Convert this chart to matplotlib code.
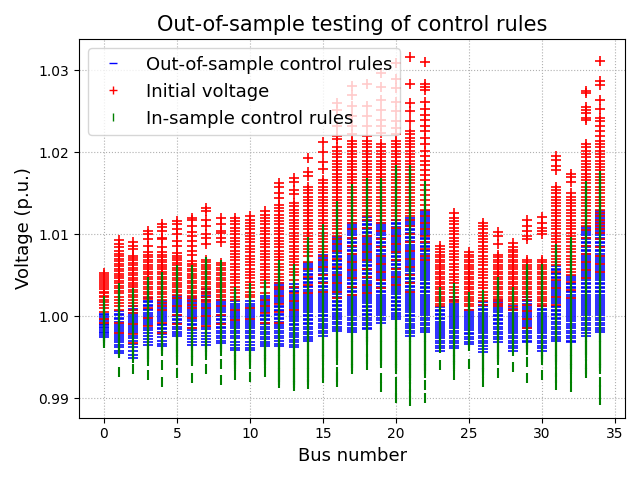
import matplotlib
matplotlib.use("Agg")
import matplotlib.pyplot as plt

# Voltage values per bus, in units of 1e-4 p.u. above 1.0 p.u.
buses = list(range(35))

red_vals = [
    [53,50,48,45,43,40,38,35,33,30,28,25,23,20,17,14,10,5,-3,-8],
    [93,88,84,80,76,73,70,67,64,61,58,55,52,49,46,43,40,37,34,31,28,24,20,16,12,8,-8,-20],
    [90,86,82,74,71,68,65,62,59,56,53,50,47,44,41,38,35,32,29,26,23,20,16,12,8,4,-10,-22,-33],
    [104,100,94,86,78,75,72,69,66,63,60,57,54,51,48,45,42,39,36,33,30,27,24,21,10,-2,-12],
    [113,109,104,96,94,85,78,75,72,69,66,63,60,57,54,51,48,45,42,39,36,33,30,27,24,20,16,12,8,-8,-20],
    [116,112,106,100,92,86,77,74,71,68,65,62,59,56,53,50,47,44,41,38,35,32,29,26,22,12,2,-10],
    [120,117,110,103,98,92,86,80,75,67,64,61,58,55,52,49,46,43,40,37,34,31,28,25,22,18,14,10,-2,-15],
    [132,128,118,110,100,96,88,69,66,63,60,57,54,51,48,45,42,39,36,33,30,27,24,20,17,10,0,-12],
    [120,112,104,101,96,91,65,62,59,56,53,50,47,44,41,38,35,32,29,26,23,20,12,2,-10],
    [120,116,112,108,104,100,96,92,88,84,80,76,72,68,64,60,56,52,48,44,40,36,32,28,24,20,8,-5],
    [122,118,114,110,106,102,98,94,90,86,82,78,74,70,66,62,58,54,50,46,42,38,34,30,26,23,10,-4],
    [128,124,120,116,112,108,104,100,96,92,88,84,80,76,72,68,64,60,56,52,48,44,41,35,28,20,12,4,-8],
    [163,158,150,144,136,132,128,124,120,116,112,108,104,100,96,92,88,84,80,76,72,68,64,60,56,52,48,44,40,36,33,25,15,5,-8],
    [169,164,154,149,138,134,130,126,122,118,114,110,106,102,98,94,90,86,82,78,74,70,66,62,58,54,50,44,36,28,18,8],
    [193,176,171,158,154,150,146,142,138,134,130,126,122,118,114,110,106,102,98,94,90,86,82,78,74,66,58,48,38,28],
    [213,200,188,180,166,162,158,154,150,146,142,138,134,130,126,122,118,114,110,106,102,98,94,90,86,82,78,74,68,60,50,40,30],
    [260,252,232,220,216,206,202,198,194,190,186,182,178,174,170,166,162,158,154,150,146,142,138,134,130,126,122,118,114,110,106,102,98,94,88,80,70,60,50,40,30,22],
    [281,270,256,244,232,222,214,210,206,202,198,194,190,186,182,178,174,170,166,162,158,154,150,146,142,138,134,130,126,122,118,114,106,96,86,76,66,56,46,36,26],
    [283,256,244,232,220,214,210,206,202,198,194,190,186,182,178,174,170,166,162,158,154,150,146,142,138,134,130,126,122,117,108,98,88,78,68,58,48,38,28],
    [297,280,264,252,240,232,224,210,206,202,198,194,190,186,182,178,174,170,166,162,158,154,150,146,142,138,134,130,126,122,118,114,104,94,84,74,64,54,44,34],
    [309,290,278,262,250,238,230,222,214,210,206,202,198,194,190,186,182,178,174,170,166,162,158,154,150,146,142,138,134,130,126,122,117,108,98,88,78,68,58,48,38],
    [317,284,260,250,238,226,222,218,214,210,206,202,198,194,190,186,182,178,174,170,166,162,158,154,150,146,142,138,134,130,126,122,118,110,100,90,80,70,60,50,40,30],
    [310,284,280,276,262,253,246,240,232,226,218,210,202,196,190,184,178,172,166,160,154,148,142,136,130,122,114,106,98,90,82,74,69],
    [86,82,78,75,72,69,66,63,60,57,54,51,48,45,42,39,36,33,30,27,24,21,18,15,12],
    [126,120,116,112,108,104,100,96,92,88,84,80,76,72,68,64,60,56,52,48,44,40,36,32,28,24,20,17],
    [78,75,72,69,66,63,60,57,54,51,48,45,42,39,36,33,30,27,24,21,18,15,12,8],
    [114,110,106,102,98,94,90,86,82,78,74,70,66,62,58,54,50,46,42,38,34,30,26,22,18,14],
    [103,98,88,75,72,69,66,63,60,57,54,51,48,45,42,39,36,33,30,27,24,21,18,15,12],
    [89,85,81,78,75,72,69,66,63,60,57,54,51,48,45,42,39,36,33,30,27,24,21,18,15,11,8],
    [117,110,104,98,94,69,66,63,60,57,54,51,48,45,42,39,36,33,30,27,24,20,14,6,-4,-14],
    [121,114,108,104,100,69,66,63,60,57,54,51,48,45,42,39,36,33,30,27,24,21,18,15,12],
    [195,191,183,179,158,154,150,146,142,138,134,130,126,122,118,114,110,106,102,98,94,90,86,82,78,74,70,66,62,54,44,34,24,14],
    [174,170,164,150,146,142,138,134,130,126,122,118,114,110,106,102,98,94,90,86,82,78,74,70,66,62,58,54,50,42,32,22],
    [275,272,255,252,248,242,240,210,206,202,198,194,190,186,182,178,174,170,166,162,158,154,150,146,142,138,134,130,126,122,118,114,110,105,96,86,76,66,56,46],
    [311,287,282,264,253,242,238,232,226,220,214,210,206,202,198,194,190,186,182,178,174,170,166,162,158,154,150,146,142,138,134,130,126,122,118,114,110,106,102,94,84,74,64,54],
]

blue_vals = [
    [3,1,-1,-3,-5,-7,-9,-11,-13,-15,-17,-19,-21,-23,-26],
    [6,3,1,-2,-4,-7,-9,-12,-14,-17,-19,-22,-24,-27,-29,-32,-35,-38,-42,-45],
    [12,9,7,4,2,-1,-3,-6,-8,-11,-13,-16,-18,-21,-24,-27,-30,-34,-38,-42,-47,-51],
    [22,19,17,14,12,9,7,4,2,-1,-3,-6,-8,-11,-14,-17,-20,-24,-28,-32,-35],
    [19,16,14,11,9,6,4,1,-1,-4,-6,-9,-11,-14,-16,-19,-22,-26,-30,-34,-37],
    [25,22,20,17,15,12,10,7,5,2,0,-3,-5,-8,-10,-13,-16,-19,-22,-24],
    [24,21,19,16,14,11,9,6,4,1,-1,-4,-6,-9,-11,-14,-17,-20,-24,-28,-32,-35],
    [33,30,28,25,23,20,18,15,13,10,8,5,3,0,-2,-5,-7,-10,-13,-16,-20,-24,-28,-32,-35],
    [20,17,15,12,10,7,5,2,0,-3,-5,-8,-10,-13,-15,-18,-21,-24,-27,-30,-33],
    [18,15,13,10,8,5,3,0,-2,-5,-7,-10,-12,-15,-18,-21,-24,-27,-31,-35,-39,-41],
    [18,15,13,10,8,5,3,0,-2,-5,-7,-10,-12,-15,-18,-21,-24,-27,-31,-35,-39,-41],
    [25,22,20,17,15,12,10,7,5,2,0,-3,-5,-8,-10,-13,-16,-19,-22,-25,-28,-31,-34,-37],
    [41,38,36,33,31,28,26,23,21,18,16,13,11,8,6,3,1,-2,-4,-7,-9,-12,-15,-18,-21,-24,-27,-30,-34,-37],
    [39,36,34,31,29,26,24,21,19,16,14,11,9,6,4,1,-1,-4,-6,-9,-11,-14,-17,-20,-23,-26,-29,-32,-35,-38],
    [65,62,60,57,55,52,50,47,45,42,40,37,35,32,30,27,25,22,20,17,15,12,10,7,5,2,0,-3,-5,-8,-10,-13,-16,-19,-22,-25,-28,-30],
    [75,72,70,67,65,62,60,57,55,52,50,47,45,42,40,37,35,32,30,27,25,22,20,17,15,12,10,7,5,2,0,-3,-6,-9,-12,-15,-18,-21,-24],
    [97,94,92,89,87,84,82,79,77,74,72,69,67,64,62,59,57,54,52,49,47,44,42,39,37,34,32,29,27,24,22,19,17,14,12,9,7,4,2,-1,-4,-7,-10,-13,-16,-18],
    [114,111,109,106,104,101,99,96,94,91,89,86,84,81,79,76,74,71,69,66,64,61,59,56,54,51,49,46,44,41,39,36,34,31,29,26,24,21,19,16,14,11,9,6,4,1,-2,-5,-8,-11,-14,-17,-19],
    [121,118,116,113,111,108,106,103,101,98,96,93,91,88,86,83,81,78,76,73,71,68,66,63,61,58,56,53,51,48,46,43,41,38,36,33,31,28,26,23,21,18,16,13,11,8,6,3,1,-2,-5,-8,-11,-14,-16],
    [114,111,109,106,104,101,99,96,94,91,89,86,84,81,79,76,74,71,69,66,64,61,59,56,54,51,49,46,44,41,39,36,34,31,29,26,24,21,19,16,14,11,9,6,4,1,-2,-5,-8],
    [117,114,112,109,107,104,102,99,97,94,92,89,87,84,82,79,77,74,72,69,67,64,62,59,57,54,52,49,47,44,42,39,37,34,32,29,27,24,22,19,17,14,12,9,7,4,2,-1,-4],
    [120,117,115,112,110,107,105,102,100,97,95,92,90,87,85,82,80,77,75,72,70,67,65,62,60,57,55,52,50,47,45,42,40,37,35,32,30,27,25,22,20,17,15,12,10,7,5,2,0,-3,-6,-9,-12,-15,-18,-21,-24],
    [129,126,124,121,119,116,114,111,109,106,104,101,99,96,94,91,89,86,84,81,79,76,74,71,69,66,64,61,59,56,54,51,49,46,44,41,39,36,34,31,29,26,24,21,19,16,14,11,9,6,4,1,-2,-5,-8,-11,-14,-17,-19],
    [11,8,6,3,1,-2,-4,-7,-9,-12,-14,-17,-19,-22,-24,-27,-30,-33,-36,-39,-42],
    [23,20,18,15,13,10,8,5,3,0,-2,-5,-7,-10,-12,-15,-18,-21,-24,-27,-30,-33,-36,-39],
    [8,5,3,0,-2,-5,-7,-10,-12,-15,-17,-20,-22,-25,-28,-31,-34],
    [17,14,12,9,7,4,2,-1,-3,-6,-8,-11,-13,-16,-18,-21,-24,-27,-30,-33,-36,-40,-44],
    [20,17,15,12,10,7,5,2,0,-3,-5,-8,-10,-13,-16,-19,-22,-25,-28,-31],
    [12,9,7,4,2,-1,-3,-6,-8,-11,-13,-16,-18,-21,-24,-27,-30,-33,-36,-39,-42],
    [23,20,18,15,13,10,8,5,3,0,-2,-5,-7,-10,-12,-15,-18,-21,-24,-27,-30,-32],
    [12,9,7,4,2,-1,-3,-6,-8,-11,-13,-16,-18,-21,-24,-27,-30,-33,-36,-39,-42],
    [61,58,56,53,51,48,46,43,41,38,36,33,31,28,26,23,21,18,16,13,11,8,6,3,1,-2,-4,-7,-10,-13,-16,-19,-22,-25,-28,-30],
    [49,46,44,41,39,36,34,31,29,26,24,21,19,16,14,11,9,6,4,1,-1,-4,-6,-9,-12,-15,-18,-21,-24,-27,-30,-32],
    [109,106,104,101,99,96,94,91,89,86,84,81,79,76,74,71,69,66,64,61,59,56,54,51,49,46,44,41,39,36,34,31,29,26,24,21,19,16,14,11,9,6,4,1,-2,-5,-8,-11,-14,-17,-20,-24],
    [129,126,124,121,119,116,114,111,109,106,104,101,99,96,94,91,89,86,84,81,79,76,74,71,69,66,64,61,59,56,54,51,49,46,44,41,39,36,34,31,29,26,24,21,19,16,14,11,9,6,4,1,-2,-5,-8,-11,-14,-17,-19],
]

green_vals = [
    [18,15,12,9,6,3,0,-3,-6,-9,-12,-15,-18,-21,-24,-27,-30,-33],
    [34,30,26,22,18,14,10,6,2,-2,-6,-10,-14,-18,-22,-26,-30,-34,-38,-42,-45,-68],
    [28,24,20,16,12,8,4,0,-4,-8,-12,-16,-20,-24,-28,-32,-36,-40,-44,-48,-51,-64],
    [42,38,34,30,26,22,18,14,10,6,2,-2,-6,-10,-14,-18,-22,-26,-30,-34,-38,-42,-46,-50,-55,-72],
    [48,44,40,36,32,28,24,20,16,12,8,4,0,-4,-8,-12,-16,-20,-24,-28,-32,-36,-40,-43,-60,-80],
    [56,52,48,44,40,36,32,28,24,20,16,12,8,4,0,-4,-8,-12,-16,-20,-24,-28,-32,-36,-40,-44,-48,-53,-70],
    [56,52,48,44,40,36,32,28,24,20,16,12,8,4,0,-4,-8,-12,-16,-20,-24,-28,-32,-36,-40,-44,-48,-52,-55,-76],
    [66,62,58,54,50,46,42,38,34,30,26,22,18,14,10,6,2,-2,-6,-10,-14,-18,-22,-26,-30,-34,-38,-42,-47,-64],
    [62,58,54,50,46,42,38,34,30,26,22,18,14,10,6,2,-2,-6,-10,-14,-18,-22,-26,-30,-34,-38,-43,-58,-78],
    [30,26,22,18,14,10,6,2,-2,-6,-10,-14,-18,-22,-26,-30,-34,-38,-42,-46,-50,-54,-58,-61,-72],
    [34,30,26,22,18,14,10,6,2,-2,-6,-10,-14,-18,-22,-26,-30,-34,-38,-42,-46,-50,-54,-59,-74],
    [38,34,30,26,22,18,14,10,6,2,-2,-6,-10,-14,-18,-22,-26,-30,-34,-38,-42,-46,-50,-54,-57,-68],
    [62,58,54,50,46,42,38,34,30,26,22,18,14,10,6,2,-2,-6,-10,-14,-18,-22,-26,-30,-34,-38,-42,-46,-50,-54,-58,-62,-66,-70,-74,-78,-81],
    [58,54,50,46,42,38,34,30,26,22,18,14,10,6,2,-2,-6,-10,-14,-18,-22,-26,-30,-34,-38,-42,-46,-50,-54,-58,-62,-66,-70,-74,-78,-82,-85],
    [90,86,82,78,74,70,66,62,58,54,50,46,42,38,34,30,26,22,18,14,10,6,2,-2,-6,-10,-14,-18,-22,-26,-30,-34,-38,-42,-46,-50,-54,-58,-62,-66,-70,-74,-78,-83],
    [106,102,98,94,90,86,82,78,74,70,66,62,58,54,50,46,42,38,34,30,26,22,18,14,10,6,2,-2,-6,-10,-14,-18,-22,-26,-30,-34,-38,-42,-46,-50,-53,-63,-70,-76],
    [135,131,127,123,119,115,111,107,103,99,95,91,87,83,79,75,71,67,63,59,55,51,47,43,39,35,31,27,23,19,15,11,7,3,-1,-5,-9,-13,-17,-21,-25,-29,-33,-37,-41,-45,-49,-53,-68,-74,-80],
    [155,151,147,143,139,135,131,127,123,119,115,111,107,103,99,95,91,87,83,79,75,71,67,63,59,55,51,47,43,39,35,31,27,23,19,15,11,7,3,-1,-5,-9,-13,-17,-21,-25,-29,-33,-37,-41,-45,-49,-53,-57,-61,-65],
    [163,159,155,151,147,143,139,135,131,127,123,119,115,111,107,103,99,95,91,87,83,79,75,71,67,63,59,55,51,47,43,39,35,31,27,23,19,15,11,7,3,-1,-5,-9,-13,-17,-21,-25,-29,-31,-44,-52,-60],
    [163,159,155,151,147,143,139,135,131,127,123,119,115,111,107,103,99,95,91,87,83,79,75,71,67,63,59,55,51,47,43,39,35,31,27,23,19,15,11,7,3,-1,-5,-9,-13,-17,-21,-25,-29,-33,-37,-41,-45,-49,-53,-57,-76,-86],
    [179,175,171,167,163,159,155,151,147,143,139,135,131,127,123,119,115,111,107,103,99,95,91,87,83,79,75,71,67,63,59,55,51,47,43,39,35,31,27,23,19,15,11,7,3,-1,-5,-9,-13,-17,-21,-25,-29,-33,-37,-41,-45,-49,-53,-57,-61,-65,-80,-92,-100],
    [179,175,171,167,163,159,155,151,147,143,139,135,131,127,123,119,115,111,107,103,99,95,91,87,83,79,75,71,67,63,59,55,51,47,43,39,35,31,27,23,19,15,11,7,3,-1,-5,-9,-13,-17,-21,-25,-29,-33,-37,-41,-45,-49,-53,-57,-61,-65,-69,-73,-77,-86,-95,-103],
    [159,155,151,147,143,139,135,131,127,123,119,115,111,107,103,99,95,91,87,83,79,75,71,67,63,59,55,51,47,43,39,35,31,27,23,19,15,11,7,3,-1,-5,-9,-13,-17,-21,-25,-29,-33,-37,-41,-45,-49,-53,-57,-61,-65,-69,-84,-100],
    [30,26,22,18,14,10,6,2,-2,-6,-10,-14,-18,-22,-26,-30,-34,-39,-60],
    [34,30,26,22,18,14,10,6,2,-2,-6,-10,-14,-18,-22,-26,-30,-34,-38,-42,-46,-50,-54,-58,-61,-72],
    [24,20,16,12,8,4,0,-4,-8,-12,-16,-20,-24,-28,-32,-37,-58],
    [26,22,18,14,10,6,2,-2,-6,-10,-14,-18,-22,-26,-30,-34,-38,-42,-46,-50,-54,-58,-62,-66,-69,-80],
    [42,38,34,30,26,22,18,14,10,6,2,-2,-6,-10,-14,-18,-22,-26,-30,-34,-38,-42,-46,-50,-53,-70],
    [30,26,22,18,14,10,6,2,-2,-6,-10,-14,-18,-22,-26,-30,-34,-38,-43,-62],
    [58,54,50,46,42,38,34,30,26,22,18,14,10,6,2,-2,-6,-10,-14,-18,-22,-26,-30,-34,-38,-41,-56,-76],
    [58,54,50,46,42,38,34,30,26,22,18,14,10,6,2,-2,-6,-10,-14,-18,-22,-26,-30,-34,-38,-42,-46,-50,-53,-72],
    [82,78,74,70,66,62,58,54,50,46,42,38,34,30,26,22,18,14,10,6,2,-2,-6,-10,-14,-18,-22,-26,-30,-34,-38,-42,-46,-50,-54,-59,-68,-76,-84],
    [90,86,82,78,74,70,66,62,58,54,50,46,42,38,34,30,26,22,18,14,10,6,2,-2,-6,-10,-14,-18,-22,-26,-30,-34,-38,-42,-46,-50,-54,-58,-62,-65,-76,-86],
    [159,155,151,147,143,139,135,131,127,123,119,115,111,107,103,99,95,91,87,83,79,75,71,67,63,59,55,51,47,43,39,35,31,27,23,19,15,11,7,3,-1,-5,-9,-13,-17,-21,-25,-29,-33,-37,-41,-45,-49,-58,-64,-70],
    [171,167,163,159,155,151,147,143,139,135,131,127,123,119,115,111,107,103,99,95,91,87,83,79,75,71,67,63,59,55,51,47,43,39,35,31,27,23,19,15,11,7,3,-1,-5,-9,-13,-17,-21,-25,-29,-33,-37,-41,-45,-49,-53,-57,-61,-65,-80,-90,-102],
]

title = "Out-of-sample testing of control rules"
xlabel = "Bus number"
ylabel = "Voltage (p.u.)"
labels = ["Out-of-sample control rules", "Initial voltage", "In-sample control rules"]


def flatten(vals):
    xs, ys = [], []
    for b, lst in zip(buses, vals):
        for v in lst:
            xs.append(b)
            ys.append(1.0 + v * 1e-4)
    return xs, ys


fig, ax = plt.subplots(figsize=(6.4, 4.8), dpi=100)
bx, by = flatten(blue_vals)
rx, ry = flatten(red_vals)
gx, gy = flatten(green_vals)
ax.plot(bx, by, "b_", label=labels[0], markersize=7, markeredgewidth=1.15)
ax.plot(rx, ry, "r+", label=labels[1], markersize=7, markeredgewidth=1.2)
ax.plot(gx, gy, "g|", label=labels[2], markersize=7, markeredgewidth=1.5)

ax.set_title(title, fontsize=15)
ax.set_xlabel(xlabel, fontsize=13)
ax.set_ylabel(ylabel, fontsize=13)
ax.grid(True, linestyle=":")
leg = ax.legend(loc="upper left", fontsize=13)
for h in leg.legend_handles:
    h.set_markersize(6)
    h.set_markeredgewidth(1.0)
fig.tight_layout()
fig.savefig("out.png", dpi=100)
